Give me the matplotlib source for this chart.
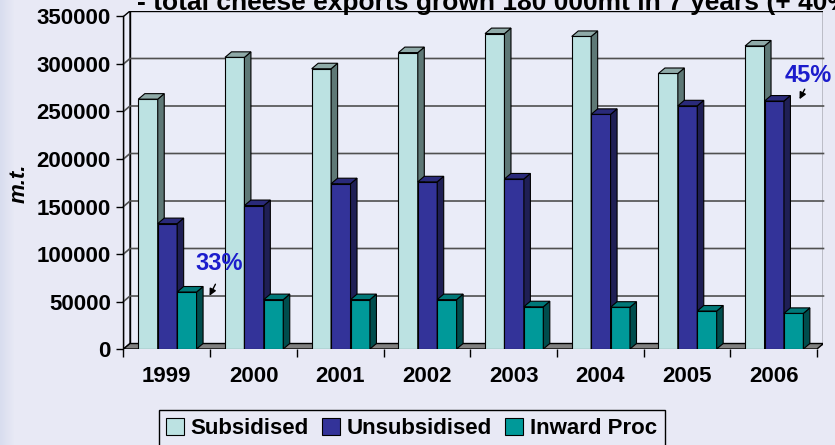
import numpy as np
import matplotlib.pyplot as plt
from matplotlib.patches import Polygon, Patch

# data
years = ['1999', '2000', '2001', '2002', '2003', '2004', '2005', '2006']
subsidised = [263000, 307000, 295000, 312000, 332000, 329000, 290000, 319000]
unsubsidised = [132000, 151000, 174000, 176000, 179000, 247000, 256000, 261000]
inward_proc = [60000, 52000, 52000, 52000, 44500, 44000, 40000, 37500]
series_names = ['Subsidised', 'Unsubsidised', 'Inward Proc']
y_ticks = list(range(0, 350001, 50000))

# front / side / top colours per series
front_cols = ['#BCE2E2', '#333399', '#009999']
side_cols = ['#5E7876', '#1F1F55', '#004D4D']
top_cols = ['#8FAAA8', '#2A2A7A', '#007878']

bg = '#E8E9F5'
wall = '#EAECF8'

plt.rcParams['font.family'] = ['Liberation Sans', 'DejaVu Sans']
plt.rcParams['font.weight'] = 'bold'

fig = plt.figure(figsize=(8.35, 4.45), dpi=100, facecolor=bg)

# soft bluish fade on the left edge of the slide background
bg_ax = fig.add_axes([0, 0, 1, 1], zorder=-1)
bg_ax.axis('off')
fade = np.ones((10, 835, 3)) * np.array([232, 233, 245]) / 255
edge = np.clip(1 - np.arange(835) / 14, 0, 1)[None, :, None]
fade = fade * (1 - 0.25 * edge) + np.array([170, 185, 220]) / 255 * 0.25 * edge
bg_ax.imshow(fade, aspect='auto', extent=[0, 1, 0, 1])

ax = fig.add_axes([0.1479, 0.2157, 0.8383, 0.7596])
ax.set_facecolor('none')
for s in ax.spines.values():
    s.set_visible(False)

n = len(years)
ymax = y_ticks[-1]
dx, dy = 0.075, 5790   # depth of the fake 3d box, in data units
ax.set_xlim(0, n + dx)
ax.set_ylim(0, ymax + dy)

# back wall, side wall, floor
ax.add_patch(Polygon([(dx, dy), (n + dx, dy), (n + dx, ymax + dy), (dx, ymax + dy)],
                     closed=True, fc=wall, ec='black', lw=1, zorder=0))
ax.add_patch(Polygon([(0, 0), (dx, dy), (dx, ymax + dy), (0, ymax)],
                     closed=True, fc=wall, ec='black', lw=1, zorder=0))
for v in y_ticks[1:-1]:
    ax.plot([0, dx, n + dx], [v, v + dy, v + dy], color='#505050', lw=1.2,
            zorder=0.5, clip_on=False)
ax.add_patch(Polygon([(0, 0), (n, 0), (n + dx, dy), (dx, dy)],
                     closed=True, fc='#808080', ec='black', lw=1, zorder=1))
ax.plot([0, 0], [0, ymax], color='black', lw=1, zorder=5, clip_on=False)

# bars
w = 0.224
offsets = [0.171, 0.395, 0.619]
all_vals = [subsidised, unsubsidised, inward_proc]
for j, vals in enumerate(all_vals):
    z = 2 + j
    xs = np.arange(n) + offsets[j]
    ax.bar(xs, vals, width=w, align='edge', color=front_cols[j],
           edgecolor='black', lw=0.8, zorder=z)
    for x0, h in zip(xs, vals):
        x1 = x0 + w
        ax.add_patch(Polygon([(x1, 0), (x1 + dx, dy), (x1 + dx, h + dy), (x1, h)],
                             fc=side_cols[j], ec='black', lw=0.8, zorder=z))
        ax.add_patch(Polygon([(x0, h), (x1, h), (x1 + dx, h + dy), (x0 + dx, h + dy)],
                             fc=top_cols[j], ec='black', lw=0.8, zorder=z))

# axes ticks
ax.set_yticks(y_ticks)
ax.set_yticklabels([str(v) for v in y_ticks])
ax.tick_params(axis='y', length=5, width=1, pad=4, labelsize=16)
ax.set_xticks(np.arange(n + 1))
ax.set_xticklabels([])
ax.set_xticks(np.arange(n) + 0.5, minor=True)
ax.set_xticklabels(years, minor=True)
ax.tick_params(axis='x', which='major', length=6, width=1)
ax.tick_params(axis='x', which='minor', length=0, pad=12, labelsize=16)

# share annotations
ax.annotate('', xy=(0.978, 53400), xytext=(1.075, 70800),
            arrowprops=dict(arrowstyle='-|>', color='black', lw=1, mutation_scale=10),
            zorder=10)
ax.text(1.10, 89500, '33%', color='#1C1CCC', fontsize=17, ha='center', va='center', zorder=10)
ax.annotate('', xy=(7.784, 260300), xytext=(7.873, 276100),
            arrowprops=dict(arrowstyle='-|>', color='black', lw=1, mutation_scale=10),
            zorder=10)
ax.text(7.896, 287400, '45%', color='#1C1CCC', fontsize=17, ha='center', va='center', zorder=10)

fig.text(137 / 835, 1 - 10 / 445, '- total cheese exports grown 180 000mt in 7 years (+ 40%)',
         fontsize=19, ha='left', va='baseline')
fig.text(19 / 835, 1 - 183 / 445, 'm.t.', rotation=90, fontsize=16, style='italic',
         ha='center', va='center')

handles = [Patch(facecolor=c, edgecolor='black', lw=0.8) for c in front_cols]
fig.legend(handles, series_names, loc='upper center', bbox_to_anchor=(0.493, 0.0787),
           ncol=3, fontsize=16, frameon=True, edgecolor='black', facecolor=bg,
           fancybox=False, framealpha=1, handlelength=0.8, handleheight=0.8,
           handletextpad=0.3, columnspacing=0.6, borderpad=0.35, borderaxespad=0)

fig.savefig('out.png', dpi=100, facecolor=fig.get_facecolor())
